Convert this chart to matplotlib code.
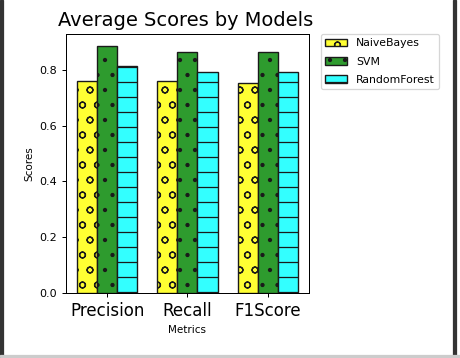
import numpy as np
import matplotlib
matplotlib.use("Agg")
import matplotlib.pyplot as plt
from matplotlib.patches import Rectangle

metrics = ['Precision', 'Recall', 'F1Score']
models = ['NaiveBayes', 'SVM', 'RandomForest']
naive_bayes = [0.76, 0.76, 0.753]
svm = [0.885, 0.865, 0.865]
random_forest = [0.813, 0.792, 0.792]

colors = ['#ffff33', '#2e9b2e', '#33ffff']
hatches = ['o', '.', '-']

# dpi 90 so the hatch spacing comes out close to the reference
dpi = 90
fig = plt.figure(figsize=(461 / dpi, 358 / dpi), dpi=dpi)
ax = fig.add_axes([0.143, 0.182, 0.527, 0.723])

x = np.arange(len(metrics))
width = 0.25
for i, vals in enumerate([naive_bayes, svm, random_forest]):
    ax.bar(x + (i - 1) * width, vals, width, color=colors[i], edgecolor='#1a1a1a',
           hatch=hatches[i], linewidth=1.1, label=models[i])

ax.set_xticks(x)
ax.set_xticklabels(metrics, fontsize=13.3)
ax.tick_params(axis='y', labelsize=8.9)
ax.set_ylabel('Scores', fontsize=8.3)
ax.set_xlabel('Metrics', fontsize=8.3)
fig.text(0.126, 0.928, 'Average Scores by Models', fontsize=15.5, ha='left', va='baseline')
ax.legend(loc='upper left', bbox_to_anchor=(1.05, 1.0), borderaxespad=0, fontsize=8.7,
          handlelength=2.0, labelspacing=0.75)

# screenshot frame
fig.patches.append(Rectangle((0, 0), 0.006, 1, transform=fig.transFigure, color='#333333'))
fig.patches.append(Rectangle((0.982, 0), 0.008, 1, transform=fig.transFigure, color='#333333'))
fig.patches.append(Rectangle((0, 0.004), 1, 0.004, transform=fig.transFigure, color='#cccccc'))

fig.savefig('out.png', dpi=dpi)
